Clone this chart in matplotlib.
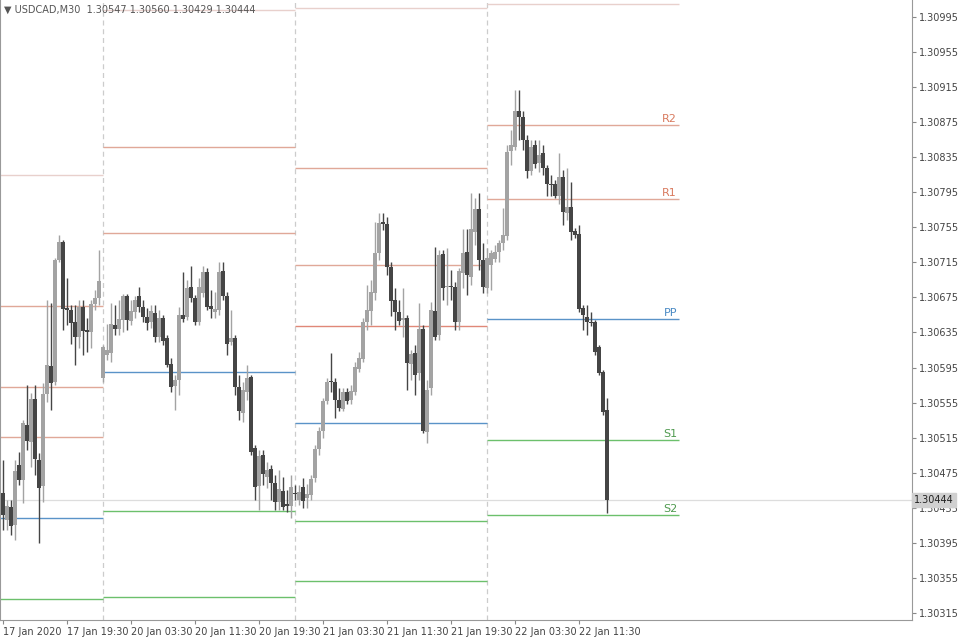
import matplotlib
matplotlib.use("Agg")
import matplotlib.pyplot as plt
import numpy as np

# prices in points (1e-5)
opens = [130452,130421,130436,130416,130484,130467,130530,130510,130559,130490,130460,130565,130597,130579,130718,130738,130662,130661,130647,130630,130664,130637,130636,130667,130674,
 130583,130609,130612,130644,130639,130649,130677,130648,130658,130677,130664,130653,130647,130657,130630,130651,130629,130599,130574,130581,130655,130653,130687,130674,130647,130680,130704,130665,130658,130661,130705,130677,130624,130629,130573,130543,130567,130584,130503,130460,130495,130470,130479,130463,130442,130454,130439,130437,
 130452,130444,130459,130446,130450,130469,130502,130523,130557,130579,130579,130558,130548,130567,130558,130567,130593,130605,130647,130660,130680,130726,130761,130759,130710,130672,130658,130649,130651,130599,130612,130589,130639,130522,130572,130660,130632,130724,130687,130688,130687,130647,130703,130727,130698,130750,130776,130718,
 130686,130712,130719,130727,130737,130745,130842,130846,130888,130881,130854,130819,130849,130828,130840,130823,130804,130804,130791,130812,130771,130778,130751,130747,130663,130653,130647,130647,130618,130590,130547]
closes = [130427,130437,130414,130477,130467,130532,130511,130559,130491,130458,130565,130598,130577,130718,130738,130662,130661,130646,130630,130664,130637,130636,130667,130674,130694,
 130618,130615,130645,130639,130650,130677,130649,130659,130672,130664,130653,130646,130659,130630,130651,130625,130598,130573,130581,130655,130650,130686,130674,130647,130687,130704,130664,130662,130662,130704,130677,130622,130629,130573,130545,130569,130583,130499,130459,130494,130474,130478,130463,130442,130457,130436,130437,130459,
 130451,130453,130443,130451,130468,130502,130523,130557,130579,130578,130558,130549,130567,130557,130568,130596,130606,130647,130661,130681,130726,130760,130759,130710,130671,130658,130648,130651,130600,130610,130587,130639,130523,130569,130661,130630,130723,130686,130688,130687,130647,130705,130726,130700,130753,130776,130718,130687,
 130720,130726,130727,130737,130746,130841,130849,130888,130881,130854,130819,130846,130827,130837,130822,130804,130803,130791,130812,130772,130778,130749,130746,130662,130655,130647,130646,130613,130589,130544,130444]
highs = [130490,130444,130444,130490,130499,130535,130575,130566,130575,130498,130577,130672,130669,130720,130746,130740,130697,130666,130666,130672,130672,130651,130672,130683,130729,
 130621,130645,130669,130666,130672,130679,130679,130672,130677,130687,130672,130663,130666,130666,130661,130655,130632,130606,130587,130664,130704,130695,130711,130678,130697,130711,130708,130683,130681,130715,130715,130681,130661,130632,130587,130579,130598,130587,130507,130501,130501,130487,130484,130473,130478,130470,130455,130473,
 130461,130461,130469,130462,130473,130507,130527,130560,130583,130612,130583,130572,130572,130572,130575,130601,130613,130651,130689,130695,130761,130771,130771,130767,130715,130686,130672,130686,130655,130615,130621,130669,130644,130581,130670,130732,130729,130729,130731,130706,130693,130708,130753,130753,130794,130788,130794,130737,
 130731,130729,130735,130740,130777,130849,130866,130911,130911,130888,130860,130854,130854,130854,130849,130826,130815,130809,130840,130820,130822,130806,130754,130757,130666,130666,130658,130649,130621,130592,130560]
lows = [130410,130410,130404,130398,130461,130441,130501,130482,130473,130395,130442,130556,130547,130575,130715,130638,130644,130622,130598,130617,130609,130613,130617,130661,130666,
 130579,130604,130601,130632,130632,130636,130638,130644,130651,130658,130647,130638,130640,130624,130624,130621,130596,130567,130547,130564,130647,130649,130670,130644,130644,130675,130661,130651,130651,130655,130672,130609,130621,130564,130535,130533,130558,130495,130444,130433,130461,130458,130444,130433,130433,130433,130430,130423,
 130444,130438,130435,130435,130444,130465,130495,130515,130553,130567,130537,130545,130545,130553,130553,130564,130590,130601,130638,130644,130672,130718,130752,130701,130654,130638,130644,130630,130569,130581,130564,130581,130520,130509,130564,130626,130626,130672,130666,130672,130638,130638,130686,130678,130689,130735,130706,130680,
 130680,130683,130715,130715,130729,130740,130826,130843,130854,130843,130811,130815,130822,130818,130815,130791,130791,130788,130781,130757,130763,130740,130743,130658,130638,130632,130642,130609,130587,130541,130429]

# daily pivot levels (points)
day_starts = [-1, 25, 73, 121]
day_ends = [25, 73, 121, 169]
day_levels = [
    [(130815, 'r3'), (130665, 'r'), (130573, 'r'), (130516, 'r'), (130423, 'pp'), (130331, 's')],
    [(131003, 'r3'), (130846, 'r'), (130748, 'r'), (130590, 'pp'), (130431, 's'), (130333, 's')],
    [(131005, 'r3'), (130822, 'r'), (130712, 'r'), (130642, 'r1'), (130532, 'pp'), (130420, 's'), (130352, 's')],
    [(131009, 'r3'), (130872, 'r'), (130787, 'r'), (130650, 'pp'), (130512, 's'), (130427, 's')],
]
last_labels = ['R2', 'R1', 'PP', 'S1', 'S2']
separators = [25, 73, 121]
xtick_bars = [0, 16, 32, 48, 64, 80, 96, 112, 128, 144]
xtick_labels = ['17 Jan 2020', '17 Jan 19:30', '20 Jan 03:30', '20 Jan 11:30', '20 Jan 19:30',
                '21 Jan 03:30', '21 Jan 11:30', '21 Jan 19:30', '22 Jan 03:30', '22 Jan 11:30']
ytick_vals = np.arange(130315, 131000, 40)
bid = 130444

O = np.array(opens) / 1e5; C = np.array(closes) / 1e5
H = np.array(highs) / 1e5; L = np.array(lows) / 1e5
x = np.arange(len(O))

fig = plt.figure(figsize=(9.6, 6.4), dpi=100)
ax = fig.add_axes([0.0, 0.031, 0.95, 0.969])
ax.set_xlim(-0.75, 227.25)
ax.set_ylim(1.30307, 1.31014)

colors = {'r3': '#e8d0cc', 'r': '#e0a898', 'r1': '#e08878', 'pp': '#5a93c8', 's': '#6cc06c'}
for s, e, lv in zip(day_starts, day_ends, day_levels):
    for v, k in lv:
        ax.hlines(v / 1e5, s, e, color=colors[k], lw=1, zorder=1)
lab_cols = ['#d97a5e', '#d97a5e', '#4a8ac4', '#4f9a4f', '#4f9a4f']
for (v, k), t, c in zip(day_levels[3][1:], last_labels, lab_cols):
    ax.text(168.5, v / 1e5 + 0.000012, t, color=c, fontsize=8, ha='right', va='bottom')

for s in separators:
    ax.axvline(s, color='#cccccc', lw=0.9, ls=(0, (4, 3)), zorder=0)
ax.axhline(bid / 1e5, color='#dddddd', lw=0.9, zorder=0)

up = C >= O
col = np.where(up, '#a3a3a3', '#454545')
ax.vlines(x, L, H, colors=col, lw=1, zorder=2)
body_lo = np.minimum(O, C); body_h = np.maximum(np.abs(C - O), 0.000014)
ax.bar(x, body_h, bottom=body_lo, width=0.8, color=col, linewidth=0, zorder=3)

ax.yaxis.tick_right()
ax.set_yticks(ytick_vals / 1e5)
ax.set_yticklabels([f'{v/1e5:.5f}' for v in ytick_vals], fontsize=7, color='#444444')
ax.set_xticks(xtick_bars)
ax.set_xticklabels(xtick_labels, fontsize=7, color='#444444', ha='left')
ax.tick_params(axis='both', length=3, color='#888888', pad=2)
for sp in ax.spines.values():
    sp.set_color('#999999'); sp.set_linewidth(0.8)
ax.spines['top'].set_visible(False)

ax.text(1.002, (bid / 1e5 - 1.30307) / (1.31014 - 1.30307), f'{bid/1e5:.5f}', transform=ax.transAxes,
        fontsize=7, color='#222222', va='center', ha='left',
        bbox=dict(boxstyle='square,pad=0.2', fc='#d0d0d0', ec='#d0d0d0'))
ax.text(0.004, 0.985, '\u25bc USDCAD,M30  1.30547 1.30560 1.30429 1.30444', transform=ax.transAxes,
        fontsize=7, color='#555555', va='center', ha='left')

fig.savefig('out.png')
